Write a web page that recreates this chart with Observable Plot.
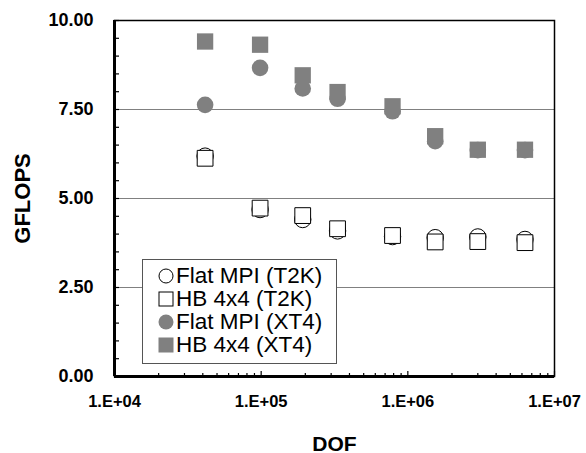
<!DOCTYPE html>
<html>
<head>
<meta charset="utf-8">
<script src="https://cdn.jsdelivr.net/npm/d3@7"></script>
<script src="https://cdn.jsdelivr.net/npm/@observablehq/plot@0.6"></script>
<style>
  body { margin: 0; background: #fff; }
  #wrap { position: relative; width: 586px; height: 453px; font-family: "Liberation Sans", Arial, sans-serif; }
  #legend { position: absolute; left: 142px; top: 259px; width: 193px; height: 99px; border: 1px solid #555; background: #fff; padding-top: 4px; box-sizing: content-box; }
  .row { height: 23px; display: flex; align-items: center; font-size: 22.5px; color: #000; white-space: nowrap; font-family: "Liberation Sans", Arial, sans-serif; }
  .row svg { margin-left: 15px; margin-right: 2px; flex: none; }
  .row span { display: inline-block; height: 22px; line-height: 22px; overflow: visible; }
</style>
</head>
<body>
<div id="wrap"><div id="legend"></div></div>
<script>
const dof = [41472, 98304, 192000, 331776, 786432, 1536000, 3000000, 6291456];
const flatT2K = [6.19, 4.69, 4.41, 4.09, 3.93, 3.90, 3.92, 3.85];
const hbT2K   = [6.13, 4.73, 4.52, 4.15, 3.96, 3.78, 3.79, 3.76];
const flatXT4 = [7.63, 8.67, 8.09, 7.80, 7.45, 6.61, 6.36, 6.36];
const hbXT4   = [9.41, 9.32, 8.46, 7.99, 7.59, 6.75, 6.37, 6.37];
const seriesNames = ["Flat MPI (T2K)", "HB 4x4 (T2K)", "Flat MPI (XT4)", "HB 4x4 (XT4)"];
const yMajor = [0, 2.5, 5, 7.5, 10];
const yGrid = [2.5, 5, 7.5];
const xMajor = [1e4, 1e5, 1e6, 1e7];

const gray = "#808080";
const yMinor = d3.range(0, 10.01, 0.5);
const xMinor = [];
for (const p of [1e4, 1e5, 1e6]) for (let k = 2; k <= 9; k++) xMinor.push(p * k);

const rows = (vals) => dof.map((d, i) => ({dof: d, v: vals[i]}));
const blank = () => "";

const chart = Plot.plot({
  width: 586,
  height: 453,
  marginLeft: 114,
  marginRight: 32,
  marginTop: 20,
  marginBottom: 77,
  style: {fontFamily: "'Liberation Sans', Arial, sans-serif", background: "#fff"},
  x: {type: "log", domain: [1e4, 1e7]},
  y: {domain: [0, 10]},
  marks: [
    Plot.ruleY(yGrid, {stroke: gray, strokeWidth: 1.2}),
    Plot.dot(rows(flatT2K), {x: "dof", y: "v", symbol: "circle", r: 8.2, fill: "#fff", stroke: "#000", strokeWidth: 1}),
    Plot.dot(rows(hbT2K), {x: "dof", y: "v", symbol: "square", r: 8.9, fill: "#fff", stroke: "#000", strokeWidth: 1}),
    Plot.dot(rows(flatXT4), {x: "dof", y: "v", symbol: "circle", r: 8.3, fill: gray, stroke: "none"}),
    Plot.dot(rows(hbXT4), {x: "dof", y: "v", symbol: "square", r: 9.2, fill: gray, stroke: "none"}),
    Plot.frame({stroke: "#000", strokeWidth: 1.5}),
    Plot.ruleX([1e4], {stroke: "#000", strokeWidth: 3}),
    Plot.ruleY([0], {stroke: "#000", strokeWidth: 3}),
    Plot.axisY(yMinor, {tickSize: -5, tickFormat: blank, stroke: "#000", strokeWidth: 1.2, label: null}),
    Plot.axisY(yMajor, {tickSize: 0, tickPadding: 21, tickFormat: d3.format(".2f"), fontSize: 18, fontWeight: "bold", fill: "#000", label: null}),
    Plot.axisX(xMinor, {tickSize: -3, tickFormat: blank, stroke: "#000", strokeWidth: 1.2, label: null}),
    Plot.axisX(xMajor, {tickSize: -5, tickPadding: 24, tickFormat: d => "1.E+" + String(Math.round(Math.log10(d))).padStart(2, "0"), fontSize: 16.5, fontWeight: "bold", fill: "#000", stroke: "#000", strokeWidth: 1.2, label: null}),
    Plot.text(["GFLOPS"], {frameAnchor: "left", dx: -92, rotate: -90, textAnchor: "middle", lineAnchor: "middle", fontSize: 22, fontWeight: "bold", fill: "#000"}),
    Plot.text(["DOF"], {frameAnchor: "bottom", dy: 74, fontSize: 21, fontWeight: "bold", fill: "#000"})
  ]
});
const wrap = document.getElementById("wrap");
wrap.insertBefore(chart, wrap.firstChild);

const symbols = [
  '<svg width="16" height="16"><circle cx="8" cy="8" r="7" fill="#fff" stroke="#000" stroke-width="1"/></svg>',
  '<svg width="16" height="16"><rect x="1" y="1" width="14" height="14" fill="#fff" stroke="#000" stroke-width="1"/></svg>',
  '<svg width="16" height="16"><circle cx="8" cy="8" r="7.5" fill="' + gray + '"/></svg>',
  '<svg width="16" height="16"><rect x="0.5" y="0.5" width="15" height="15" fill="' + gray + '"/></svg>'
];
const legend = document.getElementById("legend");
seriesNames.forEach((name, i) => {
  const r = document.createElement("div");
  r.className = "row";
  r.innerHTML = symbols[i] + "<span>" + name + "</span>";
  legend.appendChild(r);
});
</script>
</body>
</html>
